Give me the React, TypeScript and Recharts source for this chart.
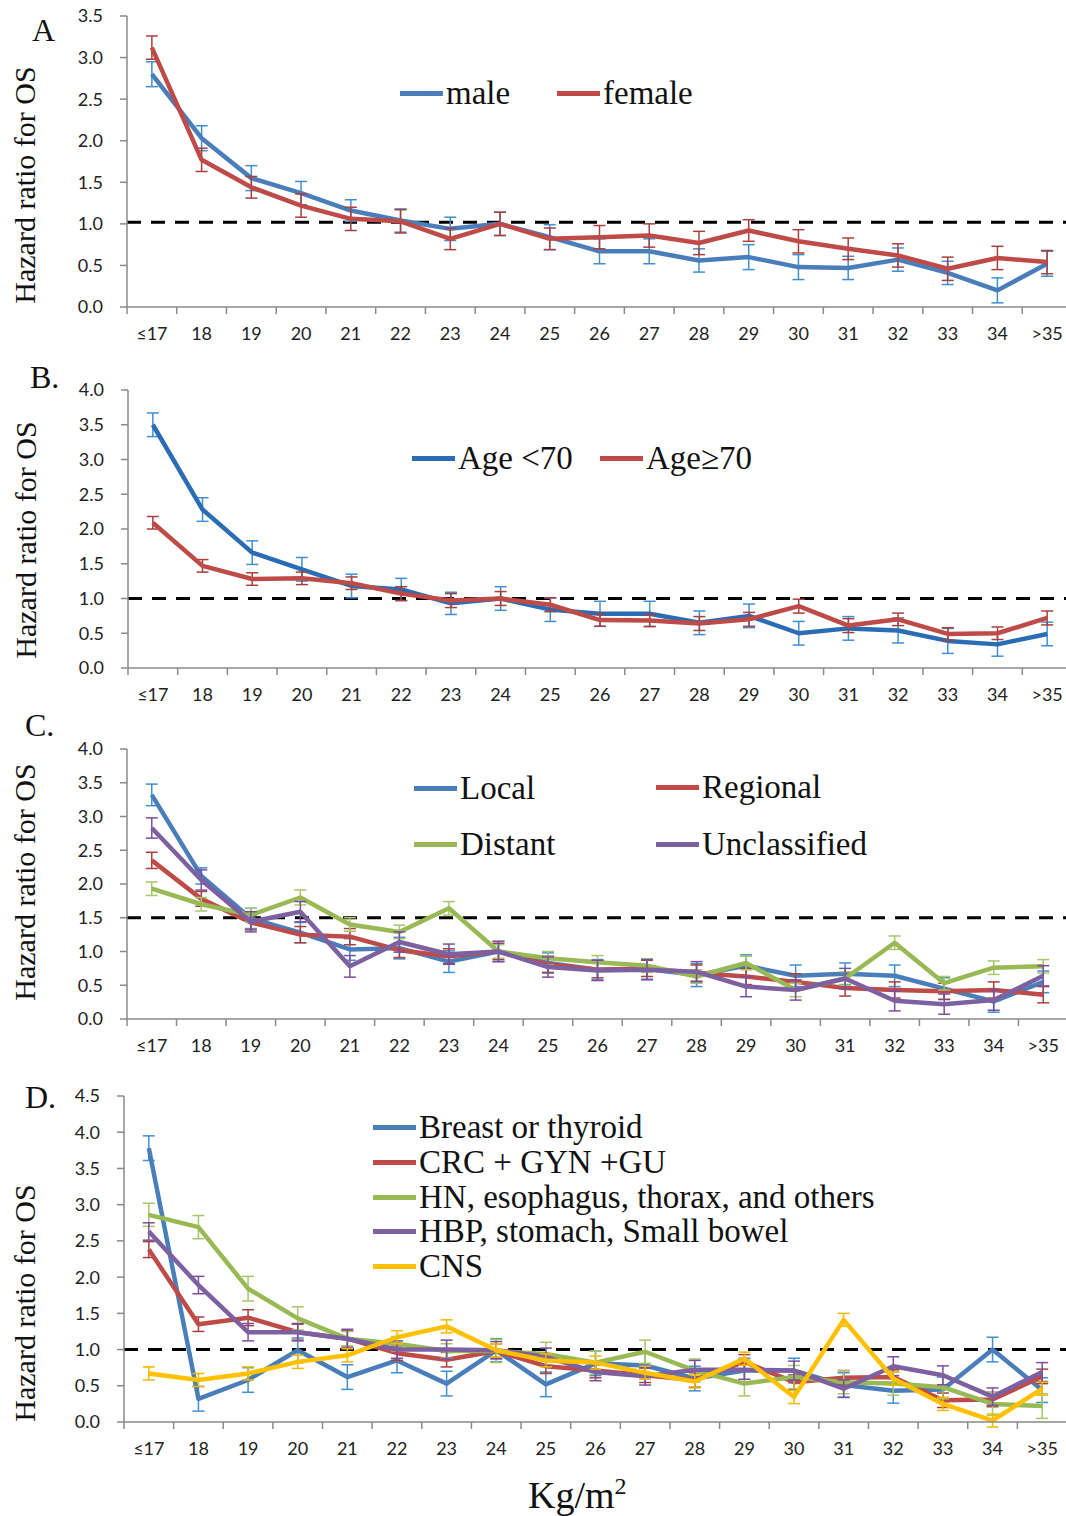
import React from 'react';
import { ComposedChart, Line, XAxis, YAxis, ReferenceLine, ErrorBar, Legend } from 'recharts';

// ---------- data ----------
const bmiCategories = ['≤17', '18', '19', '20', '21', '22', '23', '24', '25', '26', '27', '28', '29', '30', '31', '32', '33', '34', '>35'];

// Panel A: sex
const maleHR = [2.80, 2.03, 1.55, 1.37, 1.16, 1.04, 0.94, 1.00, 0.84, 0.67, 0.67, 0.56, 0.60, 0.48, 0.47, 0.57, 0.41, 0.20, 0.52];
const maleErr = [0.15, 0.15, 0.15, 0.14, 0.13, 0.14, 0.14, 0.14, 0.15, 0.15, 0.15, 0.14, 0.15, 0.15, 0.14, 0.14, 0.14, 0.15, 0.15];
const femaleHR = [3.12, 1.77, 1.44, 1.22, 1.06, 1.03, 0.82, 1.00, 0.82, 0.84, 0.86, 0.77, 0.92, 0.79, 0.70, 0.62, 0.46, 0.59, 0.54];
const femaleErr = [0.14, 0.14, 0.13, 0.14, 0.14, 0.14, 0.13, 0.14, 0.13, 0.14, 0.14, 0.14, 0.13, 0.14, 0.13, 0.14, 0.14, 0.14, 0.14];

// Panel B: age
const ageUnder70HR = [3.50, 2.28, 1.66, 1.42, 1.18, 1.13, 0.93, 1.00, 0.84, 0.78, 0.78, 0.65, 0.75, 0.50, 0.57, 0.54, 0.39, 0.34, 0.49];
const ageUnder70Err = [0.17, 0.17, 0.17, 0.17, 0.17, 0.16, 0.16, 0.17, 0.17, 0.18, 0.18, 0.17, 0.17, 0.17, 0.17, 0.18, 0.18, 0.17, 0.17];
const age70PlusHR = [2.09, 1.47, 1.28, 1.29, 1.22, 1.07, 0.97, 1.00, 0.91, 0.69, 0.685, 0.64, 0.70, 0.89, 0.61, 0.70, 0.49, 0.50, 0.72];
const age70PlusErr = [0.09, 0.09, 0.09, 0.09, 0.09, 0.10, 0.10, 0.10, 0.10, 0.09, 0.09, 0.10, 0.10, 0.10, 0.10, 0.09, 0.09, 0.09, 0.10];

// Panel C: stage
const localHR = [3.32, 2.12, 1.49, 1.28, 1.03, 1.05, 0.85, 1.00, 0.83, 0.73, 0.74, 0.65, 0.79, 0.64, 0.67, 0.64, 0.45, 0.26, 0.55];
const localErr = [0.16, 0.12, 0.15, 0.15, 0.16, 0.16, 0.16, 0.15, 0.15, 0.15, 0.15, 0.17, 0.16, 0.16, 0.16, 0.16, 0.16, 0.16, 0.16];
const regionalHR = [2.35, 1.78, 1.43, 1.25, 1.22, 1.02, 0.93, 1.00, 0.81, 0.73, 0.75, 0.68, 0.63, 0.55, 0.46, 0.43, 0.41, 0.43, 0.36];
const regionalErr = [0.12, 0.11, 0.11, 0.12, 0.12, 0.11, 0.11, 0.12, 0.12, 0.12, 0.12, 0.12, 0.12, 0.12, 0.12, 0.12, 0.12, 0.12, 0.12];
const distantHR = [1.93, 1.70, 1.54, 1.80, 1.40, 1.29, 1.64, 1.00, 0.90, 0.84, 0.79, 0.63, 0.83, 0.43, 0.60, 1.13, 0.53, 0.76, 0.78];
const distantErr = [0.10, 0.10, 0.10, 0.11, 0.10, 0.10, 0.10, 0.10, 0.10, 0.10, 0.10, 0.10, 0.10, 0.10, 0.10, 0.10, 0.10, 0.10, 0.10];
const unclassifiedHR = [2.83, 2.06, 1.44, 1.59, 0.78, 1.14, 0.96, 1.00, 0.77, 0.72, 0.73, 0.70, 0.48, 0.43, 0.60, 0.27, 0.22, 0.28, 0.64];
const unclassifiedErr = [0.15, 0.15, 0.15, 0.15, 0.16, 0.15, 0.15, 0.15, 0.15, 0.15, 0.15, 0.15, 0.15, 0.15, 0.15, 0.15, 0.15, 0.15, 0.15];

// Panel D: primary site
const breastHR = [3.78, 0.32, 0.58, 0.99, 0.62, 0.85, 0.53, 0.99, 0.52, 0.81, 0.78, 0.60, 0.71, 0.71, 0.51, 0.43, 0.45, 1.00, 0.44];
const breastErr = [0.17, 0.17, 0.17, 0.17, 0.17, 0.17, 0.17, 0.16, 0.17, 0.17, 0.17, 0.17, 0.17, 0.17, 0.17, 0.17, 0.17, 0.17, 0.17];
const crcHR = [2.38, 1.35, 1.44, 1.24, 1.15, 0.95, 0.86, 0.98, 0.77, 0.71, 0.645, 0.58, 0.83, 0.55, 0.61, 0.62, 0.30, 0.31, 0.63];
const crcErr = [0.11, 0.10, 0.11, 0.11, 0.11, 0.10, 0.10, 0.10, 0.10, 0.10, 0.10, 0.10, 0.10, 0.10, 0.10, 0.10, 0.10, 0.10, 0.10];
const hnHR = [2.86, 2.69, 1.84, 1.43, 1.15, 1.08, 0.98, 0.98, 0.94, 0.82, 0.97, 0.71, 0.53, 0.62, 0.55, 0.53, 0.48, 0.25, 0.22];
const hnErr = [0.16, 0.16, 0.17, 0.16, 0.10, 0.10, 0.10, 0.16, 0.16, 0.16, 0.16, 0.16, 0.17, 0.16, 0.16, 0.16, 0.16, 0.16, 0.17];
const hbpHR = [2.63, 1.89, 1.24, 1.24, 1.15, 1.00, 1.00, 0.99, 0.90, 0.69, 0.63, 0.72, 0.72, 0.71, 0.46, 0.77, 0.645, 0.35, 0.69];
const hbpErr = [0.12, 0.12, 0.12, 0.12, 0.13, 0.12, 0.13, 0.12, 0.12, 0.12, 0.12, 0.13, 0.13, 0.13, 0.12, 0.13, 0.13, 0.12, 0.13];
const cnsHR = [0.67, 0.58, 0.67, 0.83, 0.92, 1.17, 1.32, 0.99, 0.85, 0.82, 0.68, 0.56, 0.875, 0.345, 1.41, 0.60, 0.25, 0.02, 0.46];
const cnsErr = [0.09, 0.09, 0.09, 0.09, 0.09, 0.09, 0.09, 0.09, 0.09, 0.09, 0.09, 0.09, 0.09, 0.09, 0.09, 0.09, 0.09, 0.09, 0.09];

const yTicksA = [0, 0.5, 1.0, 1.5, 2.0, 2.5, 3.0, 3.5];
const yTicks4 = [0, 0.5, 1.0, 1.5, 2.0, 2.5, 3.0, 3.5, 4.0];
const yTicksD = [0, 0.5, 1.0, 1.5, 2.0, 2.5, 3.0, 3.5, 4.0, 4.5];

const yAxisTitle = 'Hazard ratio for OS';

// ---------- styling ----------
const SERIF = '"Liberation Serif", "Times New Roman", serif';
const SANS = 'Lato, "Open Sans", sans-serif';
const AXIS = '#8a8a8a';
const TICK_TEXT = '#222';
const BLUE = '#4a7ebb';
const BLUE_ERR = '#3f8fd2';
const BLUE_DEEP = '#2a6db5';
const RED = '#be4b48';
const RED_ERR = '#a8403e';
const GREEN = '#98b954';
const GREEN_ERR = '#a5c76a';
const PURPLE = '#7d60a0';
const PURPLE_ERR = '#7a4fa0';
const YELLOW = '#ffc000';
const YELLOW_ERR = '#f2b800';

type Series = { key: string; name: string; values: number[]; errors: number[]; color: string; errColor: string };

function buildRows(series: Series[]) {
  return bmiCategories.map((cat, i) => {
    const row: Record<string, any> = { cat };
    series.forEach((s) => {
      row[s.key] = s.values[i];
      row[s.key + 'Err'] = s.errors[i];
    });
    return row;
  });
}

const XTick = (props: any) => {
  const { x, y, payload, band } = props;
  return (
    <g>
      <line x1={x - band / 2} x2={x - band / 2} y1={y} y2={y + 7} stroke={AXIS} strokeWidth={1.5} />
      <text x={x} y={y + 33} textAnchor="middle" fontFamily={SANS} fontSize={18} fill={TICK_TEXT}>
        {payload.value}
      </text>
    </g>
  );
};

type PanelProps = {
  series: Series[];
  width: number;
  height: number;
  marginTop: number;
  marginRight: number;
  yAxisWidth: number;
  xAxisHeight: number;
  yMax: number;
  yTicks: number[];
  refY: number;
  letter: string;
  letterPos: [number, number];
  titleCenter: [number, number];
  legendPos: [number, number][];
  xTitle?: { x: number; y: number };
};

const Panel = (p: PanelProps) => {
  const rows = buildRows(p.series);
  const band = (p.width - p.marginRight - p.yAxisWidth) / bmiCategories.length;
  const renderLegend = (props: any) => {
    const payload = props.payload || [];
    return (
      <div style={{ position: 'relative', width: '100%', height: '100%' }}>
        {payload.map((item: any, i: number) => {
          const idx = p.series.findIndex((s) => s.name === item.value);
          const pos = p.legendPos[idx >= 0 ? idx : i];
          return (
            <div
              key={item.value}
              style={{
                position: 'absolute',
                left: pos[0],
                top: pos[1] - 20,
                height: 40,
                display: 'flex',
                alignItems: 'center',
                whiteSpace: 'nowrap',
              }}
            >
              <span style={{ display: 'inline-block', width: 43, height: 5, background: item.color }} />
              <span style={{ marginLeft: 3, fontFamily: SERIF, fontSize: 33, color: '#111', lineHeight: '40px' }}>
                {item.value}
              </span>
            </div>
          );
        })}
      </div>
    );
  };
  const yLabel = () => (
    <g>
      <text x={p.letterPos[0]} y={p.letterPos[1]} fontFamily={SERIF} fontSize={32} fill="#111">
        {p.letter}
      </text>
      <text
        x={p.titleCenter[0]}
        y={p.titleCenter[1]}
        transform={`rotate(-90, ${p.titleCenter[0]}, ${p.titleCenter[1]})`}
        textAnchor="middle"
        dominantBaseline="central"
        fontFamily={SERIF}
        fontSize={30}
        fill="#111"
      >
        {yAxisTitle}
      </text>
    </g>
  );
  const xLabel = () =>
    p.xTitle ? (
      <text x={p.xTitle.x} y={p.xTitle.y} fontFamily={SERIF} fontSize={38} fill="#111">
        Kg/m
        <tspan fontSize={24} dy={-14}>
          2
        </tspan>
      </text>
    ) : null;

  return (
    <ComposedChart
      width={p.width}
      height={p.height}
      data={rows}
      margin={{ top: p.marginTop, right: p.marginRight, bottom: 0, left: 0 }}
    >
      <XAxis
        dataKey="cat"
        type="category"
        scale="band"
        height={p.xAxisHeight}
        interval={0}
        tickSize={0}
        tickMargin={0}
        tickLine={false}
        axisLine={{ stroke: AXIS, strokeWidth: 1.5 }}
        tick={<XTick band={band} />}
        label={p.xTitle ? { content: xLabel } : undefined}
      />
      <YAxis
        type="number"
        domain={[0, p.yMax]}
        ticks={p.yTicks}
        interval={0}
        width={p.yAxisWidth}
        allowDataOverflow
        axisLine={{ stroke: AXIS, strokeWidth: 1.5 }}
        tickLine={{ stroke: AXIS, strokeWidth: 1.5 }}
        tickSize={7}
        tickMargin={17}
        tick={{ fontFamily: SANS, fontSize: 18, fill: TICK_TEXT }}
        tickFormatter={(v: number) => v.toFixed(1)}
        label={{ content: yLabel }}
      />
      <ReferenceLine y={p.refY} stroke="#000" strokeWidth={3} strokeDasharray="14 10" />
      {p.series.map((s) => (
        <Line
          key={s.key}
          type="linear"
          dataKey={s.key}
          name={s.name}
          stroke={s.color}
          strokeWidth={4.5}
          strokeLinejoin="round"
          dot={false}
          activeDot={false}
          isAnimationActive={false}
        >
          <ErrorBar dataKey={s.key + 'Err'} width={6} stroke={s.errColor} strokeWidth={1.5} direction="y" isAnimationActive={false} />
        </Line>
      ))}
      <Legend
        layout="horizontal"
        verticalAlign="middle"
        align="center"
        content={renderLegend}
        wrapperStyle={{ left: 0, top: 0, width: p.width, height: p.height, pointerEvents: 'none' }}
      />
    </ComposedChart>
  );
};

const seriesA: Series[] = [
  { key: 'male', name: 'male', values: maleHR, errors: maleErr, color: BLUE, errColor: BLUE_ERR },
  { key: 'female', name: 'female', values: femaleHR, errors: femaleErr, color: RED, errColor: RED_ERR },
];
const seriesB: Series[] = [
  { key: 'young', name: 'Age <70', values: ageUnder70HR, errors: ageUnder70Err, color: BLUE_DEEP, errColor: BLUE_ERR },
  { key: 'old', name: 'Age≥70', values: age70PlusHR, errors: age70PlusErr, color: RED, errColor: RED_ERR },
];
const seriesC: Series[] = [
  { key: 'local', name: 'Local', values: localHR, errors: localErr, color: BLUE, errColor: BLUE_ERR },
  { key: 'regional', name: 'Regional', values: regionalHR, errors: regionalErr, color: RED, errColor: RED_ERR },
  { key: 'distant', name: 'Distant', values: distantHR, errors: distantErr, color: GREEN, errColor: GREEN_ERR },
  { key: 'uncl', name: 'Unclassified', values: unclassifiedHR, errors: unclassifiedErr, color: PURPLE, errColor: PURPLE_ERR },
];
const seriesD: Series[] = [
  { key: 'breast', name: 'Breast or thyroid', values: breastHR, errors: breastErr, color: BLUE, errColor: BLUE_ERR },
  { key: 'crc', name: 'CRC + GYN +GU', values: crcHR, errors: crcErr, color: RED, errColor: RED_ERR },
  { key: 'hn', name: 'HN, esophagus, thorax, and others', values: hnHR, errors: hnErr, color: GREEN, errColor: GREEN_ERR },
  { key: 'hbp', name: 'HBP, stomach, Small bowel', values: hbpHR, errors: hbpErr, color: PURPLE, errColor: PURPLE_ERR },
  { key: 'cns', name: 'CNS', values: cnsHR, errors: cnsErr, color: YELLOW, errColor: YELLOW_ERR },
];

export default function App() {
  return (
    <div
      style={{
        position: 'absolute',
        left: 0,
        top: 0,
        width: 1066,
        height: 1516,
        overflow: 'hidden',
        background: '#fff',
      }}
    >
      <div style={{ position: 'absolute', left: 0, top: 0 }}>
        <Panel
          series={seriesA}
          width={1080}
          height={350}
          marginTop={16}
          marginRight={8}
          yAxisWidth={127}
          xAxisHeight={43}
          yMax={3.5}
          yTicks={yTicksA}
          refY={1.02}
          letter="A"
          letterPos={[32, 41]}
          titleCenter={[24, 185]}
          legendPos={[[400, 93], [557, 93]]}
        />
      </div>
      <div style={{ position: 'absolute', left: 0, top: 350 }}>
        <Panel
          series={seriesB}
          width={1080}
          height={361}
          marginTop={40}
          marginRight={8}
          yAxisWidth={128}
          xAxisHeight={43}
          yMax={4}
          yTicks={yTicks4}
          refY={1.0}
          letter="B."
          letterPos={[30, 38]}
          titleCenter={[25, 190]}
          legendPos={[[412, 108], [600, 108]]}
        />
      </div>
      <div style={{ position: 'absolute', left: 0, top: 705 }}>
        <Panel
          series={seriesC}
          width={1076}
          height={357}
          marginTop={44}
          marginRight={8}
          yAxisWidth={127}
          xAxisHeight={43}
          yMax={4}
          yTicks={yTicks4}
          refY={1.5}
          letter="C."
          letterPos={[25, 31]}
          titleCenter={[24, 177]}
          legendPos={[[414, 83], [656, 82], [414, 139], [656, 139]]}
        />
      </div>
      <div style={{ position: 'absolute', left: 0, top: 1080 }}>
        <Panel
          series={seriesD}
          width={1075}
          height={436}
          marginTop={16}
          marginRight={8}
          yAxisWidth={124}
          xAxisHeight={94}
          yMax={4.5}
          yTicks={yTicksD}
          refY={1.0}
          letter="D."
          letterPos={[25, 28]}
          titleCenter={[24, 223]}
          legendPos={[[373, 47], [373, 82], [373, 117], [373, 151], [373, 186]]}
          xTitle={{ x: 528, y: 428 }}
        />
      </div>
    </div>
  );
}
